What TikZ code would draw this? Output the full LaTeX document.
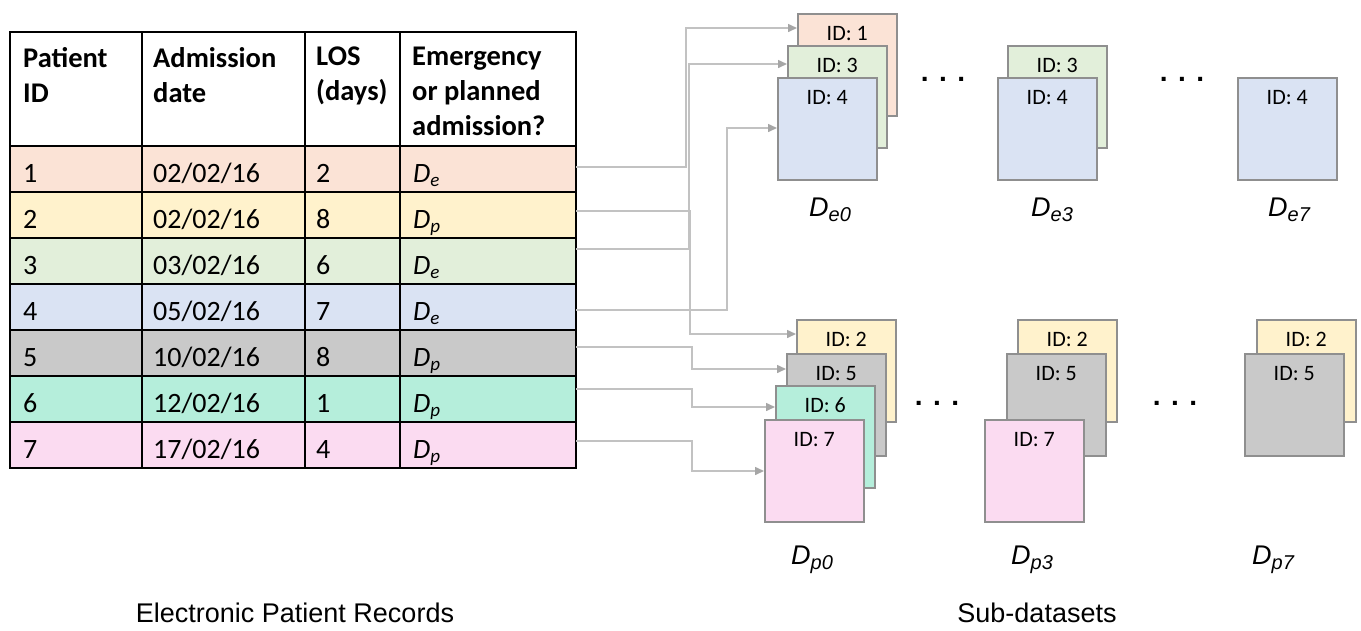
\documentclass[tikz,border=0pt]{standalone}
\usepackage{fontspec}
\setmainfont{Carlito}
\newfontfamily\arialfont{Liberation Sans}
\usetikzlibrary{arrows.meta,calc}

% record colours (one per patient)
\definecolor{recA}{HTML}{FBE3D6}
\definecolor{recB}{HTML}{FFF2CC}
\definecolor{recC}{HTML}{E2EFDA}
\definecolor{recD}{HTML}{DAE3F3}
\definecolor{recE}{HTML}{C9C9C9}
\definecolor{recF}{HTML}{B5EEDB}
\definecolor{recG}{HTML}{FBDBF1}
\definecolor{sheetline}{HTML}{8F8F8F}
\definecolor{linkline}{HTML}{C2C2C2}
\definecolor{linktip}{HTML}{A6A6A6}

\tikzset{
  rowfill/.style={anchor=north west, minimum width=566pt, minimum height=46pt,
                  inner sep=0pt, outer sep=0pt, draw=none},
  cell/.style={anchor=base west, inner sep=0pt, font=\fontsize{28}{34}\selectfont},
  head/.style={anchor=north west, inner sep=0pt, align=left,
               font=\fontsize{28.5}{35}\selectfont\bfseries},
  sheet/.style={anchor=north west, draw=sheetline, line width=1.5pt,
                minimum width=99pt, minimum height=102pt, inner sep=0pt},
  idtext/.style={anchor=base, inner sep=0pt, font=\fontsize{22}{22}\selectfont},
  setname/.style={anchor=base, inner sep=0pt, font=\arialfont\itshape\fontsize{27}{27}\selectfont},
  dots/.style={anchor=base, inner sep=0pt, font=\arialfont\bfseries\fontsize{28}{28}\selectfont},
  caption/.style={anchor=base, inner sep=0pt, font=\arialfont\fontsize{27}{27}\selectfont},
  link/.style={draw=linkline, line width=1.5pt,
               -{Triangle[length=9pt,width=8pt,color=linktip]}},
  tablegrid/.style={draw=black, line width=1.8pt}
}

% subscripted set names
\newcommand{\tabD}[1]{\textit{D}\raisebox{-4pt}{\fontsize{19}{19}\selectfont\itshape #1}}
\newcommand{\setD}[1]{D\raisebox{-5pt}{\fontsize{20}{20}\selectfont #1}}

\begin{document}
\begin{tikzpicture}[x=1pt,y=-1pt]
\useasboundingbox (0,0) rectangle (1361,630);

% ---------------- record table ----------------
\node[rowfill, fill=white] (hdr) at (10,32) {};
\node[rowfill, fill=recA] (row1) at (10,146) {};
\node[rowfill, fill=recB] (row2) at (10,192) {};
\node[rowfill, fill=recC] (row3) at (10,238) {};
\node[rowfill, fill=recD] (row4) at (10,284) {};
\node[rowfill, fill=recE] (row5) at (10,330) {};
\node[rowfill, fill=recF] (row6) at (10,376) {};
\node[rowfill, fill=recG] (row7) at (10,422) {};

\node[head] (h1) at (23,47)  {Patient\\ID};
\node[head] (h2) at (153,47) {Admission\\date};
\node[head] (h3) at (316,47) {LOS\\(days)};
\node[head] (h4) at (412,47) {Emergency\\or planned\\admission?};

\foreach \i/\d/\l/\t/\y in {1/02\slash 02\slash 16/2/e/182, 2/02\slash 02\slash 16/8/p/228,
                             3/03\slash 02\slash 16/6/e/274, 4/05\slash 02\slash 16/7/e/320,
                             5/10\slash 02\slash 16/8/p/366, 6/12\slash 02\slash 16/1/p/412,
                             7/17\slash 02\slash 16/4/p/458} {
  \node[cell] (pid\i) at (23,\y)  {\i};
  \node[cell] (adm\i) at (153,\y) {\d};
  \node[cell] (los\i) at (316,\y) {\l};
  \node[cell] (typ\i) at (413,\y) {\tabD{\t}};
}

% grid
\draw[tablegrid] (10,32) rectangle (576,468);
\foreach \y in {146,192,238,284,330,376,422} \draw[tablegrid] (10,\y) -- (576,\y);
\foreach \x in {142,305,400} \draw[tablegrid] (\x,32) -- (\x,468);

% ---------------- emergency sub-datasets ----------------
\node[sheet, fill=recA] (e0b1) at (797,13) {};
\node[sheet, fill=recC] (e0b3) at (787,45) {};
\node[sheet, fill=recD] (e0b4) at (777,77) {};
\node[idtext] (e0t1) at ([yshift=-27.5pt]e0b1.north) {ID: 1};
\node[idtext] (e0t3) at ([yshift=-27.5pt]e0b3.north) {ID: 3};
\node[idtext] (e0t4) at ([yshift=-27.5pt]e0b4.north) {ID: 4};

\node[sheet, fill=recC] (e3b3) at (1007,45) {};
\node[sheet, fill=recD] (e3b4) at (997,77) {};
\node[idtext] (e3t3) at ([yshift=-27.5pt]e3b3.north) {ID: 3};
\node[idtext] (e3t4) at ([yshift=-27.5pt]e3b4.north) {ID: 4};

\node[sheet, fill=recD] (e7b4) at (1237,77) {};
\node[idtext] (e7t4) at ([yshift=-27.5pt]e7b4.north) {ID: 4};

\node[dots] (edots1) at (943,81) {. . .};
\node[dots] (edots2) at (1182,81) {. . .};

\node[setname] (De0) at (830,216) {\setD{e0}};
\node[setname] (De3) at (1052,216) {\setD{e3}};
\node[setname] (De7) at (1289,216) {\setD{e7}};

% ---------------- planned sub-datasets ----------------
\node[sheet, fill=recB] (p0b2) at (796,319) {};
\node[sheet, fill=recE] (p0b5) at (786,353) {};
\node[sheet, fill=recF] (p0b6) at (775,385) {};
\node[sheet, fill=recG] (p0b7) at (764,419) {};
\node[idtext] (p0t2) at ([yshift=-27.5pt]p0b2.north) {ID: 2};
\node[idtext] (p0t5) at ([yshift=-27.5pt]p0b5.north) {ID: 5};
\node[idtext] (p0t6) at ([yshift=-27.5pt]p0b6.north) {ID: 6};
\node[idtext] (p0t7) at ([yshift=-27.5pt]p0b7.north) {ID: 7};

\node[sheet, fill=recB] (p3b2) at (1017,319) {};
\node[sheet, fill=recE] (p3b5) at (1006,353) {};
\node[sheet, fill=recG] (p3b7) at (984,419) {};
\node[idtext] (p3t2) at ([yshift=-27.5pt]p3b2.north) {ID: 2};
\node[idtext] (p3t5) at ([yshift=-27.5pt]p3b5.north) {ID: 5};
\node[idtext] (p3t7) at ([yshift=-27.5pt]p3b7.north) {ID: 7};

\node[sheet, fill=recB] (p7b2) at (1256,319) {};
\node[sheet, fill=recE] (p7b5) at (1244,353) {};
\node[idtext] (p7t2) at ([yshift=-27.5pt]p7b2.north) {ID: 2};
\node[idtext] (p7t5) at ([yshift=-27.5pt]p7b5.north) {ID: 5};

\node[dots] (pdots1) at (937,405) {. . .};
\node[dots] (pdots2) at (1175,405) {. . .};

\node[setname] (Dp0) at (812,564) {\setD{p0}};
\node[setname] (Dp3) at (1032,564) {\setD{p3}};
\node[setname] (Dp7) at (1273,564) {\setD{p7}};

% ---------------- record-to-dataset links ----------------
\draw[link] (row1.east |- 0,167) -| (686,28)  -- (e0b1.west |- 0,28);
\draw[link] (row3.east |- 0,249) -| (689,64)  -- (e0b3.west |- 0,64);
\draw[link] (row4.east |- 0,310) -| (727,128) -- (e0b4.west |- 0,128);
\draw[link] (row2.east |- 0,211) -| (690,334) -- (p0b2.west |- 0,334);
\draw[link] (row5.east |- 0,347) -| (692,369) -- (p0b5.west |- 0,369);
\draw[link] (row6.east |- 0,389) -| (692,407) -- (p0b6.west |- 0,407);
\draw[link] (row7.east |- 0,441) -| (692,471) -- (p0b7.west |- 0,471);

% ---------------- captions ----------------
\node[caption] (capL) at (295,622) {Electronic Patient Records};
\node[caption] (capR) at (1037,622) {Sub-datasets};
\end{tikzpicture}
\end{document}
